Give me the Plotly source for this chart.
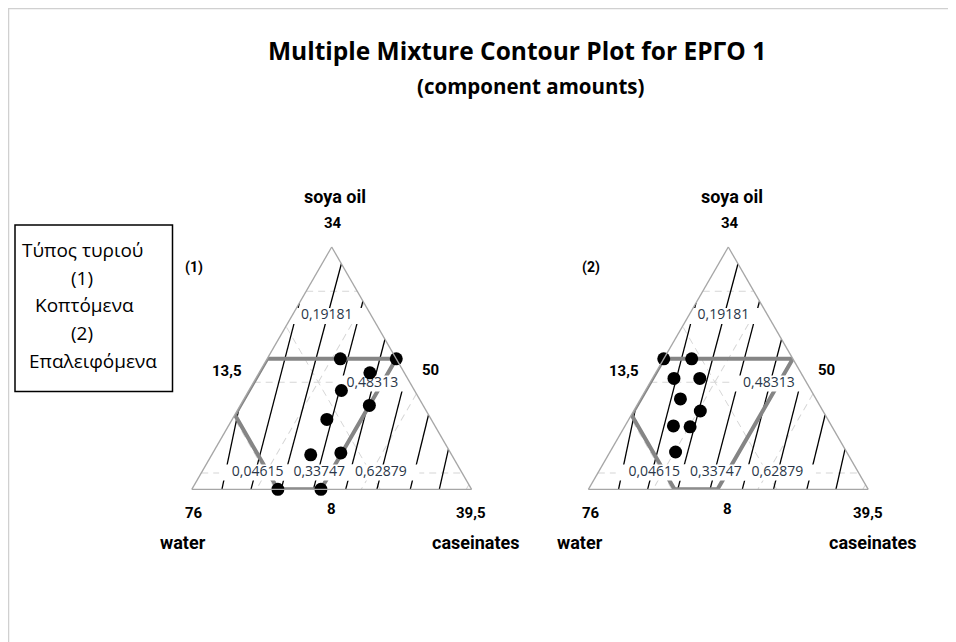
import plotly.graph_objects as go

W, H = 956, 642
OFF = 8  # page body margin of the html page

# ---------------- data ----------------
components = ["soya oil", "water", "caseinates"]
lower_bound = [8, 50, 13.5]          # soya oil, water, caseinates
upper_bound = [34, 76, 39.5]
total_amount = 97.5
vertex_labels = ["34", "76", "39,5"]
edge_labels = ["8", "50", "13,5"]     # low value of soya oil, water, caseinates

# feasible (constrained) region, component amounts
region_soya = [22, 22, 8, 8, 16, 22]
region_water = [62, 50, 64, 68, 68, 62]
region_cas = [13.5, 25.5, 25.5, 21.5, 13.5, 13.5]

# design points, panel (1) Κοπτόμενα
p1_soya = [22, 22, 20.5, 18.6, 17.0, 15.5, 11.9, 11.7, 8, 8]
p1_water = [55.2, 50, 53.2, 56.8, 55.0, 59.7, 60.2, 63.1, 68, 64]
p1_cas = [20.3, 25.5, 23.8, 22.1, 25.5, 22.3, 25.4, 22.7, 21.5, 25.5]

# design points, panel (2) Επαλειφόμενα
p2_soya = [22, 22, 19.9, 19.9, 17.7, 16.4, 14.8, 14.7, 12.0]
p2_water = [62.0, 59.4, 62.1, 59.7, 62.6, 61.4, 64.7, 63.2, 65.9]
p2_cas = [13.5, 16.1, 15.5, 17.9, 17.2, 19.7, 18.0, 19.6, 19.6]

# contour lines of ΕΡΓΟ 1 (start on bottom edge, end on left/right edge)
contour_levels = [-0.09951, 0.04615, 0.19181, 0.33747, 0.48313, 0.62879, 0.77445, 0.92011]
contour_start_soya = [8, 8, 8, 8, 8, 8, 8, 8]
contour_start_water = [73.2, 70.5, 67.7, 64.7, 61.7, 58.8, 55.7, 53.0]
contour_start_cas = [16.3, 19.0, 21.8, 24.8, 27.8, 30.7, 33.8, 36.5]
contour_end_soya = [16.8, 28.0, 32.2, 28.2, 24.1, 20.2, 16.0, 12.3]
contour_end_water = [67.2, 56.0, 50, 50, 50, 50, 50, 50]
contour_end_cas = [13.5, 13.5, 15.3, 19.3, 23.4, 27.3, 31.5, 35.2]

# contour labels
label_text = ["0,19181", "0,48313", "0,04615", "0,33747", "0,62879"]
label_soya = [26.6, 19.35, 9.79, 9.79, 9.79]
label_water = [54.16, 53.55, 68.99, 63.26, 57.54]
label_cas = [16.74, 24.6, 18.72, 24.45, 30.17]

title_text = "Multiple Mixture Contour Plot for ΕΡΓΟ 1"
subtitle_text = "(component amounts)"
legend_lines = ["Τύπος τυριού", "(1)", "Κοπτόμενα", "(2)", "Επαλειφόμενα"]
panel_tags = ["(1)", "(2)"]

# ---------------- figure ----------------
def px(x):
    return (x - OFF) / W

def py(y):
    return 1 - (y - OFF) / H

fig = go.Figure()

panels = [
    ("ternary", 191.7, (p1_soya, p1_water, p1_cas)),
    ("ternary2", 588.3, (p2_soya, p2_water, p2_cas)),
]

for sub, x0, pts in panels:
    # contour lines
    for i, lev in enumerate(contour_levels):
        fig.add_trace(go.Scatterternary(
            subplot=sub, mode="lines",
            a=[contour_start_soya[i], contour_end_soya[i]],
            b=[contour_start_water[i], contour_end_water[i]],
            c=[contour_start_cas[i], contour_end_cas[i]],
            line=dict(color="black", width=1.3),
            hoverinfo="skip", showlegend=False, name=f"{lev}"))
    # constrained region
    fig.add_trace(go.Scatterternary(
        subplot=sub, mode="lines", cliponaxis=False,
        a=region_soya, b=region_water, c=region_cas,
        line=dict(color="#858585", width=4),
        hoverinfo="skip", showlegend=False))
    # contour labels with white background
    fig.add_trace(go.Scatterternary(
        subplot=sub, mode="markers+text", cliponaxis=False,
        a=label_soya, b=label_water, c=label_cas,
        text=label_text, textposition="middle center",
        textfont=dict(family="Open Sans", size=14, color="#2a3648"),
        marker=dict(symbol="line-ew", size=55, color="white",
                    line=dict(color="white", width=16)),
        hoverinfo="skip", showlegend=False))
    # design points
    fig.add_trace(go.Scatterternary(
        subplot=sub, mode="markers", cliponaxis=False,
        a=pts[0], b=pts[1], c=pts[2],
        marker=dict(color="black", size=13, line=dict(width=0)),
        showlegend=False))

axis_common = dict(showticklabels=False, ticks="", showline=True,
                   linecolor="#a6a6a6", linewidth=1.3, showgrid=True,
                   gridcolor="#d6d6d6", griddash="7px,5px", gridwidth=1,
                   tick0=0, dtick=9.75, title=dict(text=""))

def ternary_layout(x0):
    return dict(
        sum=total_amount, bgcolor="white",
        domain=dict(x=[px(x0), px(x0 + 280)], y=[py(489.3), py(247.0)]),
        aaxis=dict(min=lower_bound[0], **axis_common),
        baxis=dict(min=lower_bound[1], **axis_common),
        caxis=dict(min=lower_bound[2], **axis_common),
    )

annotations = []

def add_text(text, x, y, size, bold=False, family="Roboto", color="black"):
    annotations.append(dict(
        text=f"<b>{text}</b>" if bold else text,
        x=px(x), y=py(y), xref="paper", yref="paper",
        xanchor="center", yanchor="middle", showarrow=False,
        font=dict(family=family, size=size, color=color)))

add_text(title_text, 517, 50, 24.5, bold=True, family="Open Sans")
add_text(subtitle_text, 530, 86, 20.5, bold=True, family="Open Sans")

for k, (sub, x0, pts) in enumerate(panels):
    dx = x0 - 191.7
    add_text(components[0], 335 + dx, 197, 18, bold=True)
    add_text(vertex_labels[0], 333 + dx, 223, 15, bold=True)
    add_text(panel_tags[k], 194 + dx, 267, 14, bold=True)
    add_text(edge_labels[2], 227 + dx, 371, 15, bold=True)
    add_text(edge_labels[1], 430 + dx, 370, 15, bold=True)
    add_text(vertex_labels[1], 194 + dx, 513, 15, bold=True)
    add_text(edge_labels[0], 331 + dx, 509, 15, bold=True)
    add_text(vertex_labels[2], 471 + dx, 513, 15, bold=True)
    add_text(components[1], 183 + dx, 542, 18, bold=True)
    add_text(components[2], 476 + dx, 542, 18, bold=True)

legend_x = [82, 82, 84, 82, 93]
legend_y = [250, 278, 305, 333, 361]
for t, lx, ly in zip(legend_lines, legend_x, legend_y):
    add_text(t, lx, ly, 19, family="Open Sans")

shapes = [
    dict(type="rect", xref="paper", yref="paper",
         x0=px(15), x1=px(172.5), y0=py(391.5), y1=py(225),
         line=dict(color="black", width=1.5)),
    dict(type="line", xref="paper", yref="paper",
         x0=px(8.5), x1=px(8.5), y0=py(8), y1=0,
         line=dict(color="#d0d0d0", width=1.5)),
    dict(type="line", xref="paper", yref="paper",
         x0=px(8), x1=1, y0=py(8.5), y1=py(8.5),
         line=dict(color="#d0d0d0", width=1.5)),
]

fig.update_layout(
    width=W, height=H,
    margin=dict(l=0, r=0, t=0, b=0),
    paper_bgcolor="white", plot_bgcolor="white",
    showlegend=False,
    ternary=ternary_layout(191.7),
    ternary2=ternary_layout(588.3),
    annotations=annotations, shapes=shapes,
)

fig.write_html("out.html")
